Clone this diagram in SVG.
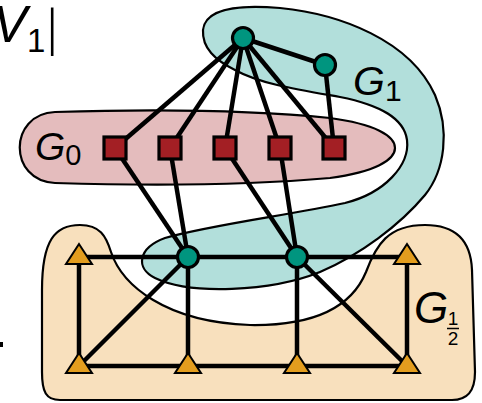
<svg xmlns="http://www.w3.org/2000/svg" width="482" height="403" viewBox="0 0 482 403">
<style>
.blob{stroke:#000;stroke-width:2.2}
.e{stroke:#000;stroke-width:4.5;fill:none}
.g{fill:#00957f;stroke:#000;stroke-width:3.2}
.r{fill:#a31f24;stroke:#000;stroke-width:3.2}
.t{fill:#e39d1e;stroke:#000;stroke-width:2}
.lab{font-family:"Liberation Sans",Arial,sans-serif;fill:#000}
.it{font-style:italic}
</style>
<defs>
<polygon id="tri" points="0,-13 -13,7 13,7"/>
</defs>
<g id="G_half">
<path class="blob" fill="#f8e0bd" d="M60 400 C46 400 42 392 42 372 L42 290 C42 240 55 225 80 225 C100 225 106 236 111 252 C122 285 165 322 250 325 C315 326 352 306 366 272 C376 245 388 225 425 225 C460 225 471 245 472 270 L475 372 C475 392 467 400 452 400 Z"/>
</g>
<g id="G0">
<path class="blob" fill="#e4bcbd" d="M55 112 C150 109 250 110 330 118 C375 124 395 136 395 148 C395 160 375 172 330 178 C250 185 150 186 55 183 C8 181 8 114 55 112 Z"/>
</g>
<g id="G1">
<path class="blob" fill="#b2dfdb" d="M203 30 C205 10 235 4 280 8 C340 14 410 40 435 95 C450 130 445 170 425 195 C400 225 360 255 320 272 C270 292 190 295 155 278 C135 268 138 248 165 238 C210 225 290 215 345 203 C385 193 410 165 407 140 C404 118 380 105 340 97 C300 90 260 84 235 70 C215 60 202 48 203 30 Z"/>
</g>
<g id="edges">
<line class="e" x1="243" y1="38" x2="115" y2="148"/>
<line class="e" x1="243" y1="38" x2="170" y2="148"/>
<line class="e" x1="243" y1="38" x2="225" y2="148"/>
<line class="e" x1="243" y1="38" x2="280" y2="148"/>
<line class="e" x1="243" y1="38" x2="334" y2="148"/>
<line class="e" x1="243" y1="38" x2="325" y2="65"/>
<line class="e" x1="325" y1="65" x2="334" y2="148"/>
<line class="e" x1="115" y1="148" x2="188" y2="257"/>
<line class="e" x1="170" y1="148" x2="188" y2="257"/>
<line class="e" x1="225" y1="148" x2="297" y2="257"/>
<line class="e" x1="280" y1="148" x2="297" y2="257"/>
<line class="e" x1="79" y1="257" x2="407" y2="257"/>
<line class="e" x1="79" y1="257" x2="79" y2="366"/>
<line class="e" x1="407" y1="257" x2="407" y2="366"/>
<line class="e" x1="79" y1="366" x2="407" y2="366"/>
<line class="e" x1="188" y1="257" x2="79" y2="366"/>
<line class="e" x1="188" y1="257" x2="188" y2="366"/>
<line class="e" x1="297" y1="257" x2="297" y2="366"/>
<line class="e" x1="297" y1="257" x2="407" y2="366"/>
</g>
<g id="n_top"><circle class="g" cx="243" cy="38" r="10.5"/></g>
<g id="n_g1b"><circle class="g" cx="325" cy="65" r="10.5"/></g>
<g id="n_r1"><rect class="r" x="104" y="137" width="22" height="22"/></g>
<g id="n_r2"><rect class="r" x="159" y="137" width="22" height="22"/></g>
<g id="n_r3"><rect class="r" x="214" y="137" width="22" height="22"/></g>
<g id="n_r4"><rect class="r" x="269" y="137" width="22" height="22"/></g>
<g id="n_r5"><rect class="r" x="323" y="137" width="22" height="22"/></g>
<g id="n_m1"><circle class="g" cx="188" cy="257" r="10.5"/></g>
<g id="n_m2"><circle class="g" cx="297" cy="257" r="10.5"/></g>
<g id="n_t1"><use href="#tri" class="t" x="79" y="257"/></g>
<g id="n_t2"><use href="#tri" class="t" x="407" y="257"/></g>
<g id="n_t3"><use href="#tri" class="t" x="79" y="366"/></g>
<g id="n_t4"><use href="#tri" class="t" x="188" y="366"/></g>
<g id="n_t5"><use href="#tri" class="t" x="297" y="366"/></g>
<g id="n_t6"><use href="#tri" class="t" x="407" y="366"/></g>
<g id="labels">
<text class="lab" x="-7" y="42" font-size="51"><tspan class="it">V</tspan><tspan font-size="33" dy="10">1</tspan></text>
<text x="47" y="45" font-size="52" font-family="Liberation Serif,serif">|</text>
<text class="lab" x="35" y="160" font-size="39"><tspan class="it">G</tspan><tspan font-size="29" dy="5">0</tspan></text>
<text class="lab" x="353" y="95" font-size="41"><tspan class="it">G</tspan><tspan font-size="30" dy="6">1</tspan></text>
<text class="lab it" x="414" y="323" font-size="44">G</text>
<text class="lab" x="453" y="325" font-size="19" text-anchor="middle">1</text>
<line x1="447" y1="328.5" x2="459" y2="328.5" stroke="#000" stroke-width="1.5"/>
<text class="lab" x="453" y="345" font-size="19" text-anchor="middle">2</text>
<rect x="0" y="342" width="3" height="5" fill="#000"/>
</g>
</svg>
